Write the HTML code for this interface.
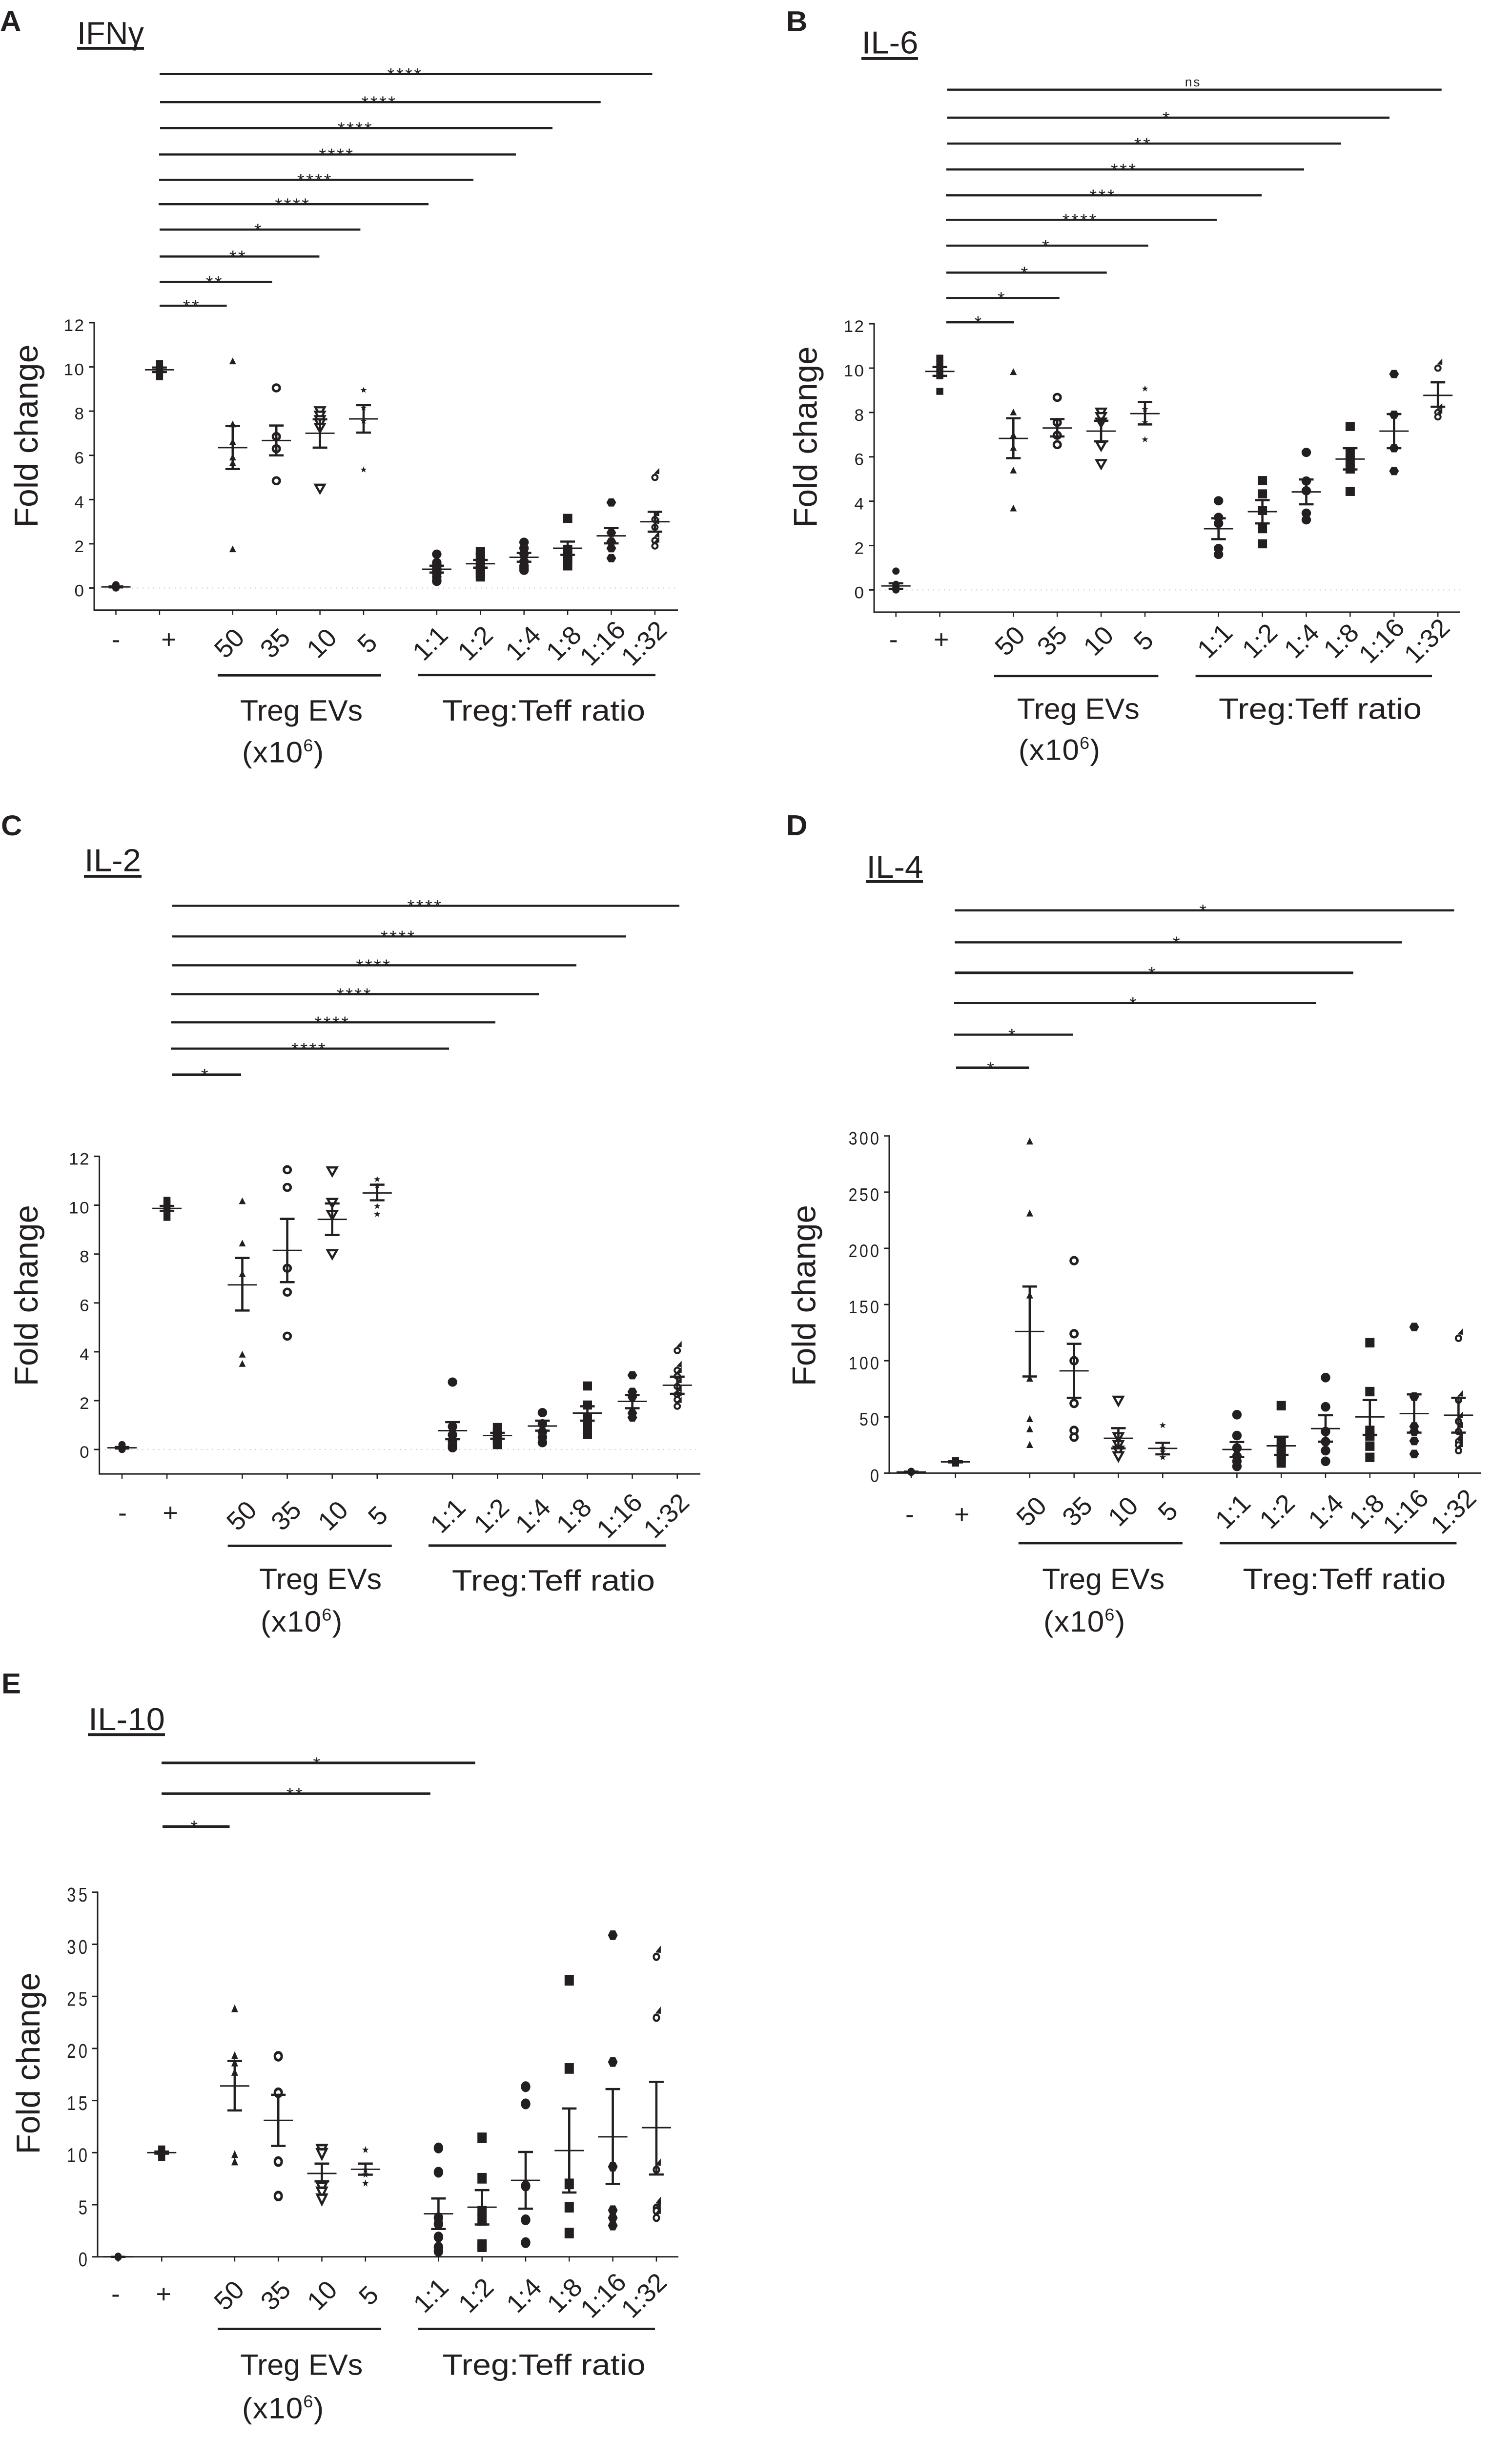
<!DOCTYPE html>
<html lang="en">
<head>
<meta charset="utf-8">
<title>Cytokine fold change panels</title>
<style>
html,body{margin:0;padding:0;background:#fff;width:100vw;height:100vh;overflow:hidden}
svg{display:block;position:absolute;left:0;top:0;width:100vw;height:100vh}
text{font-family:"Liberation Sans",sans-serif;fill:#231f20}
.sb{stroke:#231f20;stroke-width:4.5}
.st{font-size:38px;letter-spacing:3.5px;text-anchor:middle}
.ttl{font-size:66px}
.ltr{font-size:60px;font-weight:bold}
.gl{stroke:#231f20;stroke-width:5}
.ul{stroke:#231f20;stroke-width:6}
.gt{font-size:62px}
.yt{font-size:68px;text-anchor:middle}
</style>
</head>
<body>
<svg id="fig" xmlns="http://www.w3.org/2000/svg" viewBox="0 0 3098 5106" preserveAspectRatio="none">
<rect x="0" y="0" width="3098" height="5106" fill="#fff"/>

<g>
<text class="ltr" x="0" y="65">A</text>
<text class="ttl" x="158" y="92" textLength="137" lengthAdjust="spacingAndGlyphs">IFNγ</text>
<line class="ul" x1="158" x2="295" y1="101" y2="101"/>
<line class="sb" x1="327" x2="1336.5" y1="155" y2="155"/><text class="st" x="830" y="169">****</text>
<line class="sb" x1="328" x2="1230.7" y1="213.6" y2="213.6"/><text class="st" x="777" y="227.6">****</text>
<line class="sb" x1="328" x2="1132" y1="267.8" y2="267.8"/><text class="st" x="728.5" y="281.8">****</text>
<line class="sb" x1="326" x2="1057" y1="323.1" y2="323.1"/><text class="st" x="690" y="337.1">****</text>
<line class="sb" x1="326" x2="970" y1="376.2" y2="376.2"/><text class="st" x="645.5" y="390.2">****</text>
<line class="sb" x1="325" x2="878" y1="427.1" y2="427.1"/><text class="st" x="600" y="441.1">****</text>
<line class="sb" x1="327" x2="738.4" y1="480.3" y2="480.3"/><text class="st" x="530" y="494.3">*</text>
<line class="sb" x1="327" x2="654.4" y1="536.6" y2="536.6"/><text class="st" x="488" y="550.6">**</text>
<line class="sb" x1="327" x2="557.5" y1="589.8" y2="589.8"/><text class="st" x="440" y="603.8">**</text>
<line class="sb" x1="327" x2="464.6" y1="639.6" y2="639.6"/><text class="st" x="393" y="653.6">**</text>
<line class="gl" x1="446" x2="781" y1="1412.6" y2="1412.6"/>
<line class="gl" x1="857" x2="1343" y1="1412" y2="1412"/>
<text class="gt" x="492" y="1507.5" textLength="251" lengthAdjust="spacingAndGlyphs">Treg EVs</text>
<text class="gt" x="496" y="1594.8" letter-spacing="1.2">(x10<tspan font-size="36" dy="-23">6</tspan><tspan dy="23">)</tspan></text>
<text class="gt" x="906" y="1507.5" textLength="416" lengthAdjust="spacingAndGlyphs">Treg:Teff ratio</text>
<text class="yt" transform="translate(77 912) rotate(-90)" textLength="383" lengthAdjust="spacingAndGlyphs">Fold change</text>
</g>

<g>
<text class="ltr" x="1611" y="65">B</text>
<text class="ttl" x="1765.5" y="111.7" textLength="116" lengthAdjust="spacingAndGlyphs">IL-6</text>
<line class="ul" x1="1765" x2="1881" y1="122.5" y2="122.5"/>
<line class="sb" x1="1940.5" x2="2953.7" y1="187.6" y2="187.6"/><text x="2444.6" y="181" font-size="26" letter-spacing="3" text-anchor="middle">ns</text>
<line class="sb" x1="1940.5" x2="2847" y1="246.1" y2="246.1"/><text class="st" x="2391" y="260.1">*</text>
<line class="sb" x1="1940.5" x2="2748" y1="300.3" y2="300.3"/><text class="st" x="2342" y="314.3">**</text>
<line class="sb" x1="1939" x2="2672" y1="354.5" y2="354.5"/><text class="st" x="2303.3" y="368.5">***</text>
<line class="sb" x1="1938" x2="2585" y1="408.7" y2="408.7"/><text class="st" x="2259.8" y="422.7">***</text>
<line class="sb" x1="1938" x2="2493" y1="459.7" y2="459.7"/><text class="st" x="2213.3" y="473.7">****</text>
<line class="sb" x1="1939" x2="2352.7" y1="513.9" y2="513.9"/><text class="st" x="2144" y="527.9">*</text>
<line class="sb" x1="1939" x2="2267.7" y1="570.3" y2="570.3"/><text class="st" x="2100.6" y="584.3">*</text>
<line class="sb" x1="1939" x2="2170.8" y1="623.4" y2="623.4"/><text class="st" x="2053" y="637.4">*</text>
<line class="sb" x1="1939" x2="2077.5" y1="673.7" y2="673.7" style="stroke-width:5.5"/><text class="st" x="2005.7" y="687.7">*</text>
<line class="gl" x1="2037" x2="2373.4" y1="1414" y2="1414"/>
<line class="gl" x1="2449.6" x2="2934" y1="1414" y2="1414"/>
<text class="gt" x="2083.8" y="1503.7" textLength="251" lengthAdjust="spacingAndGlyphs">Treg EVs</text>
<text class="gt" x="2086.8" y="1589.3" letter-spacing="1.2">(x10<tspan font-size="36" dy="-23">6</tspan><tspan dy="23">)</tspan></text>
<text class="gt" x="2497" y="1503.7" textLength="416" lengthAdjust="spacingAndGlyphs">Treg:Teff ratio</text>
<text class="yt" transform="translate(1673.6 914) rotate(-90)" textLength="379" lengthAdjust="spacingAndGlyphs">Fold change</text>
</g>

<g>
<text class="ltr" x="2" y="1747.5">C</text>
<text class="ttl" x="173" y="1822.4" textLength="116" lengthAdjust="spacingAndGlyphs">IL-2</text>
<line class="ul" x1="172" x2="290" y1="1833" y2="1833"/>
<line class="sb" x1="353" x2="1392" y1="1894.6" y2="1894.6"/><text class="st" x="871" y="1908.6">****</text>
<line class="sb" x1="353" x2="1283" y1="1958.9" y2="1958.9"/><text class="st" x="816.5" y="1972.9">****</text>
<line class="sb" x1="353" x2="1181" y1="2019.2" y2="2019.2"/><text class="st" x="766" y="2033.2">****</text>
<line class="sb" x1="351" x2="1104" y1="2079.5" y2="2079.5"/><text class="st" x="726.5" y="2093.5">****</text>
<line class="sb" x1="351" x2="1015" y1="2138.6" y2="2138.6"/><text class="st" x="681" y="2152.6">****</text>
<line class="sb" x1="350" x2="920" y1="2193.3" y2="2193.3"/><text class="st" x="633.6" y="2207.3">****</text>
<line class="sb" x1="352" x2="494" y1="2248" y2="2248" style="stroke-width:5.5"/><text class="st" x="421" y="2262">*</text>
<line class="gl" x1="466.6" x2="802.7" y1="3233.5" y2="3233.5"/>
<line class="gl" x1="878" x2="1364" y1="3233" y2="3233"/>
<text class="gt" x="531" y="3323.9" textLength="251" lengthAdjust="spacingAndGlyphs">Treg EVs</text>
<text class="gt" x="534" y="3413" letter-spacing="1.2">(x10<tspan font-size="36" dy="-23">6</tspan><tspan dy="23">)</tspan></text>
<text class="gt" x="926" y="3327" textLength="416" lengthAdjust="spacingAndGlyphs">Treg:Teff ratio</text>
<text class="yt" transform="translate(77 2710) rotate(-90)" textLength="379" lengthAdjust="spacingAndGlyphs">Fold change</text>
</g>

<g>
<text class="ltr" x="1611" y="1747">D</text>
<text class="ttl" x="1775.4" y="1836" textLength="116" lengthAdjust="spacingAndGlyphs">IL-4</text>
<line class="ul" x1="1774" x2="1891" y1="1844" y2="1844"/>
<line class="sb" x1="1956.3" x2="2979.4" y1="1904.2" y2="1904.2"/><text class="st" x="2466.4" y="1918.2">*</text>
<line class="sb" x1="1956.3" x2="2872.6" y1="1971.2" y2="1971.2"/><text class="st" x="2412" y="1985.2">*</text>
<line class="sb" x1="1956.3" x2="2772.8" y1="2034.8" y2="2034.8" style="stroke-width:5.5"/><text class="st" x="2361.6" y="2048.8">*</text>
<line class="sb" x1="1955" x2="2696.7" y1="2098.4" y2="2098.4"/><text class="st" x="2323" y="2112.4">*</text>
<line class="sb" x1="1955" x2="2198.5" y1="2164.3" y2="2164.3"/><text class="st" x="2075" y="2178.3">*</text>
<line class="sb" x1="1959" x2="2108.5" y1="2233.5" y2="2233.5" style="stroke-width:5.5"/><text class="st" x="2031.4" y="2247.5">*</text>
<line class="gl" x1="2086.8" x2="2422.9" y1="3228" y2="3228"/>
<line class="gl" x1="2499" x2="2984.4" y1="3228" y2="3228"/>
<text class="gt" x="2135.2" y="3323.9" textLength="251" lengthAdjust="spacingAndGlyphs">Treg EVs</text>
<text class="gt" x="2138" y="3413" letter-spacing="1.2">(x10<tspan font-size="36" dy="-23">6</tspan><tspan dy="23">)</tspan></text>
<text class="gt" x="2546.4" y="3323.9" textLength="416" lengthAdjust="spacingAndGlyphs">Treg:Teff ratio</text>
<text class="yt" transform="translate(1670.6 2710) rotate(-90)" textLength="379" lengthAdjust="spacingAndGlyphs">Fold change</text>
</g>

<g>
<text class="ltr" x="3" y="3542">E</text>
<text class="ttl" x="181" y="3619" textLength="157" lengthAdjust="spacingAndGlyphs">IL-10</text>
<line class="ul" x1="180" x2="338" y1="3628.5" y2="3628.5"/>
<line class="sb" x1="331" x2="973.7" y1="3687.6" y2="3687.6" style="stroke-width:5.5"/><text class="st" x="650.5" y="3701.6">*</text>
<line class="sb" x1="331" x2="881.8" y1="3752" y2="3752" style="stroke-width:5.5"/><text class="st" x="605" y="3766">**</text>
<line class="sb" x1="333" x2="470.5" y1="3820.7" y2="3820.7" style="stroke-width:5.5"/><text class="st" x="399.4" y="3834.7">*</text>
<line class="gl" x1="446" x2="781" y1="4871.5" y2="4871.5"/>
<line class="gl" x1="857" x2="1342" y1="4871.5" y2="4871.5"/>
<text class="gt" x="492.3" y="4967.6" textLength="251" lengthAdjust="spacingAndGlyphs">Treg EVs</text>
<text class="gt" x="496" y="5058.4" letter-spacing="1.2">(x10<tspan font-size="36" dy="-23">6</tspan><tspan dy="23">)</tspan></text>
<text class="gt" x="906.5" y="4967.6" textLength="416" lengthAdjust="spacingAndGlyphs">Treg:Teff ratio</text>
<text class="yt" transform="translate(81 4316) rotate(-90)" textLength="380" lengthAdjust="spacingAndGlyphs">Fold change</text>
</g>
</svg>

<script>
const categories = ['-', '+', '50', '35', '10', '5', '1:1', '1:2', '1:4', '1:8', '1:16', '1:32'];
const markerKinds = ['dot', 'smallSquare', 'triangle', 'ring', 'invTriangle', 'star', 'circle', 'square', 'circle', 'square', 'hexagon', 'ringTriangle'];

const ifngTicks = [0, 2, 4, 6, 8, 10, 12];
const ifngPoints = [
  [0.15, 0.0],
  [10.15, 10.0, 9.9, 9.8, 9.55],
  [10.25, 7.4, 6.6, 5.9, 5.65, 1.75],
  [9.05, 6.85, 6.3, 4.85],
  [8.0, 7.8, 7.6, 7.45, 7.25, 4.5],
  [8.95, 8.15, 7.55, 5.35],
  [1.53, 1.15, 1.05, 0.9, 0.8, 0.65, 0.5, 0.35, 0.3],
  [1.65, 1.45, 1.1, 0.95, 0.8, 0.65, 0.5],
  [2.07, 1.8, 1.55, 1.2, 1.0, 0.9, 0.8],
  [3.15, 1.75, 1.55, 1.4, 1.2, 1.0],
  [3.87, 2.5, 2.1, 1.8, 1.35],
  [5.0, 3.1, 2.75, 2.15, 1.9]
];
const ifngMeans = [0.05, 9.87, 6.35, 6.67, 7.0, 7.65, 0.85, 1.1, 1.39, 1.8, 2.36, 3.0];
const ifngUpper = [0.07, 9.97, 7.33, 7.35, 7.63, 8.27, 1.01, 1.27, 1.59, 2.1, 2.71, 3.45];
const ifngLower = [0.03, 9.77, 5.38, 6.0, 6.35, 7.03, 0.7, 0.92, 1.19, 1.5, 2.02, 2.55];

const il6Ticks = [0, 2, 4, 6, 8, 10, 12];
const il6Points = [
  [0.85, 0.25, 0.1, 0.0],
  [10.45, 10.2, 10.0, 9.8, 9.65, 8.95],
  [9.82, 8.0, 6.97, 6.4, 5.38, 3.67],
  [8.68, 7.55, 6.97, 6.55],
  [8.0, 7.8, 7.55, 6.5, 5.68],
  [9.07, 8.15, 7.55, 6.78],
  [4.02, 3.27, 3.0, 1.87, 1.6],
  [4.93, 4.33, 3.58, 2.76, 2.08],
  [6.2, 4.91, 4.47, 3.46, 3.16],
  [7.37, 6.15, 5.8, 5.45, 4.44],
  [9.73, 7.9, 6.39, 5.36],
  [10.0, 8.0, 7.8]
];
const il6Means = [0.18, 9.85, 6.83, 7.3, 7.16, 7.95, 2.76, 3.53, 4.42, 5.9, 7.16, 8.77];
const il6Upper = [0.3, 10.05, 7.74, 7.7, 7.63, 8.47, 3.23, 4.05, 4.98, 6.39, 7.93, 9.36];
const il6Lower = [0.05, 9.65, 5.94, 6.92, 6.7, 7.46, 2.29, 3.0, 3.86, 5.43, 6.39, 8.26];

const il2Ticks = [0, 2, 4, 6, 8, 10, 12];
const il2Points = [
  [0.2, 0.05, 0.0],
  [10.2, 10.05, 9.9, 9.75, 9.5],
  [10.16, 8.43, 7.18, 3.88, 3.5],
  [11.45, 10.73, 7.42, 6.44, 4.64],
  [11.39, 10.1, 9.6, 8.0],
  [11.06, 10.8, 9.96, 9.63],
  [2.76, 0.94, 0.6, 0.33, 0.17, 0.07],
  [0.9, 0.66, 0.5, 0.33, 0.2],
  [1.51, 1.05, 0.72, 0.5, 0.28],
  [2.6, 1.82, 1.27, 0.94, 0.61],
  [3.04, 2.36, 2.15, 1.49, 1.31],
  [4.05, 3.24, 3.0, 2.58, 2.25, 2.04, 1.77]
];
const il2Means = [0.07, 9.87, 6.74, 8.15, 9.42, 10.5, 0.77, 0.57, 0.96, 1.49, 1.97, 2.63];
const il2Upper = [0.1, 9.97, 7.84, 9.44, 10.07, 10.84, 1.12, 0.68, 1.18, 1.77, 2.23, 2.98];
const il2Lower = [0.04, 9.77, 5.69, 6.85, 8.78, 10.2, 0.42, 0.44, 0.77, 1.18, 1.69, 2.28];

const il4Ticks = [0, 50, 100, 150, 200, 250, 300];
const il4Points = [
  [1.5, 0.8],
  [11, 10, 9],
  [295, 231, 158, 84, 48, 39, 25],
  [189, 124, 100, 62, 38, 32],
  [64.4, 32, 25, 20, 15],
  [42.5, 22.4, 19, 14],
  [52, 33.4, 22.4, 15, 10.5, 6],
  [60, 27, 22.4, 17.6, 13, 9],
  [85, 59, 37, 28, 20, 10.5],
  [116, 72.5, 38, 33, 24, 14],
  [130, 68, 41.5, 37, 28.6, 17],
  [120, 65, 46, 37, 28, 25, 20]
];
const il4Means = [1, 10, 126, 91, 31, 22, 21, 24.3, 39.6, 50, 53, 51.5];
const il4Upper = [1.3, 10.5, 166, 115, 40, 27, 27.7, 32.4, 51.5, 65, 70, 67];
const il4Lower = [0.7, 9.5, 86, 67, 22, 16.7, 14.3, 16.2, 28, 34, 36, 36];

const il10Ticks = [0, 5, 10, 15, 20, 25, 30, 35];
const il10Points = [
  [0.0],
  [10.3, 10.1, 10.0, 9.9, 9.6],
  [23.8, 19.3, 18.6, 17.7, 9.8, 9.1],
  [19.25, 15.75, 9.14, 5.83],
  [10.3, 9.9, 6.66, 6.2, 5.54],
  [10.26, 8.36, 7.9, 7.05],
  [10.45, 8.12, 3.74, 3.16, 1.9, 0.92, 0.53],
  [11.42, 7.54, 4.38, 3.5, 1.17, 0.97],
  [16.33, 14.68, 6.8, 3.55, 1.36],
  [26.54, 18.08, 7.0, 4.76, 2.28],
  [30.87, 18.7, 8.65, 4.47, 3.74, 3.0],
  [28.8, 22.95, 8.36, 4.7, 4.4, 3.74]
];
const il10Means = [0, 10, 16.4, 13.1, 8.0, 8.4, 4.13, 4.76, 7.34, 10.2, 11.52, 12.4];
const il10Upper = [0, 10.1, 18.8, 15.55, 8.95, 8.95, 5.6, 6.4, 10.06, 14.24, 16.1, 16.8];
const il10Lower = [0, 9.9, 14.05, 10.65, 7.24, 7.88, 2.67, 3.1, 4.62, 6.17, 7.0, 7.9];

const panels = [
  { key: 'ifng', ticks: ifngTicks, points: ifngPoints, means: ifngMeans, upper: ifngUpper, lower: ifngLower,
    x0: 237.5, step: 89.4, gap: 60.5, y0: 1230, k: 46.25, yMin: -1, axisX: 193, right: 1389,
    labelY: 1346, ctrlDy: -8, tickFont: 35, tickSx: 1, tickLs: 2.5, markerSy: 1,
    labelDx: [0, 19, -6.5, -2, 4, 8, -13, -10, -1.5, -7.5, -17.5, -22] },
  { key: 'il6', ticks: il6Ticks, points: il6Points, means: il6Means, upper: il6Upper, lower: il6Lower,
    x0: 1835.7, step: 89.9, gap: 60.8, y0: 1234, k: 46.4, yMin: -1, axisX: 1791, right: 2992,
    labelY: 1341, ctrlDy: -3, tickFont: 35, tickSx: 1, tickLs: 2.5, markerSy: 1,
    labelDx: [-5, 3, -6.5, -10, -5, -2.5, -7, -5, -9, -18, -25, -22] },
  { key: 'il2', ticks: il2Ticks, points: il2Points, means: il2Means, upper: il2Upper, lower: il2Lower,
    x0: 250, step: 92.1, gap: 62.3, y0: 3032, k: 51.1, yMin: -1, axisX: 203.6, right: 1435,
    labelY: 3171, ctrlDy: -6, tickFont: 35, tickSx: 1, tickLs: 2.5, markerSy: 1,
    labelDx: [1, 7, -1, -2, 2, 2, -9, -12, -19, -27, -26, -22] },
  { key: 'il4', ticks: il4Ticks, points: il4Points, means: il4Means, upper: il4Upper, lower: il4Lower,
    x0: 1867, step: 90.8, gap: 61.3, y0: 3081.4, k: 2.351, yMin: 0, axisX: 1822, right: 3035,
    labelY: 3162, ctrlDy: 6, tickFont: 38, tickSx: 0.85, tickLs: 5, markerSy: 1.04,
    labelDx: [-3, 13, 4, 7, 10, 11, -8, -8, 1, -6, -17, -10] },
  { key: 'il10', ticks: il10Ticks, points: il10Points, means: il10Means, upper: il10Upper, lower: il10Lower,
    x0: 242, step: 89.3, gap: 60.3, y0: 4720.7, k: 21.79, yMin: 0, axisX: 200, right: 1390,
    labelY: 4802, ctrlDy: -3, tickFont: 42, tickSx: 0.78, tickLs: 7, markerSy: 1.17,
    labelDx: [-5, 4, -11, -5, 1, 7, -15, -12, -3, -9, -19, -25] }
];

const fig = document.getElementById('fig');
const svgNs = fig.namespaceURI;
const ink = '#231f20';

function make(tag, parent, attrs) {
  const el = document.createElementNS(svgNs, tag);
  for (const k in attrs) el.setAttribute(k, attrs[k]);
  parent.appendChild(el);
  return el;
}
function xPos(i, p) {
  return p.x0 + p.step * i + (i >= 2 ? p.gap : 0) + (i >= 6 ? p.gap : 0);
}
function yPos(v, p) {
  return p.y0 - v * p.k;
}
function poly(parent, verts, attrs) {
  const pts = verts.map(function (v) { return v[0] + ',' + v[1]; }).join(' ');
  return make('polygon', parent, Object.assign({ points: pts }, attrs));
}
function starVerts(R, r) {
  const out = [];
  for (let a = 0; a < 10; a++) {
    const rad = a % 2 ? r : R;
    const t = -Math.PI / 2 + a * Math.PI / 5;
    out.push([rad * Math.cos(t), rad * Math.sin(t)]);
  }
  return out;
}
function hexVerts(r) {
  const out = [];
  for (let a = 0; a < 6; a++) {
    const t = a * Math.PI / 3;
    out.push([r * Math.cos(t), r * Math.sin(t)]);
  }
  return out;
}
function drawMarker(kind, parent, x, y, sy) {
  const g = make('g', parent, { transform: 'translate(' + x + ' ' + y + ') scale(1 ' + sy + ')' });
  
  
  if (kind === 'dot') make('circle', g, { cx: 0, cy: 0, r: 7.5, fill: ink });
  if (kind === 'circle') make('circle', g, { cx: 0, cy: 0, r: 9.7, fill: ink });
  if (kind === 'square') make('rect', g, { x: -9.5, y: -9.5, width: 19, height: 19, fill: ink });
  if (kind === 'smallSquare') make('rect', g, { x: -7.2, y: -7.2, width: 14.4, height: 14.4, fill: ink });
  if (kind === 'triangle') poly(g, [[0, -8], [7, 6], [-7, 6]], { fill: ink });
  if (kind === 'ring') make('circle', g, { cx: 0, cy: 0, r: 7, fill: '#fff', stroke: ink, 'stroke-width': 5 });
  if (kind === 'invTriangle') poly(g, [[-9.5, -8], [9.5, -8], [0, 9]], { fill: '#fff', stroke: ink, 'stroke-width': 4.5 });
  if (kind === 'star') poly(g, starVerts(7, 2.8), { fill: ink });
  if (kind === 'hexagon') poly(g, hexVerts(10), { fill: ink });
  if (kind === 'ringTriangle') {
    poly(g, [[9, -20], [9, -7], [-2, -8]], { fill: ink });
    make('circle', g, { cx: 0, cy: 0, r: 5.5, fill: '#fff', stroke: ink, 'stroke-width': 4 });
  }
}

panels.forEach(function (p) {
  const chart = make('g', fig, {});
  
  

  const bottom = yPos(p.yMin, p);
  const top = yPos(p.ticks[p.ticks.length - 1], p);

  if (p.yMin < 0) {
    const zero = make('line', chart, { x1: p.axisX, x2: p.right, y1: p.y0, y2: p.y0, stroke: '#c4c4c4', 'stroke-width': 2, 'stroke-dasharray': '2 9' });
    
    
  }

  const yAxis = make('line', chart, { x1: p.axisX, x2: p.axisX, y1: top - 1.5, y2: bottom + 1.5, stroke: ink, 'stroke-width': 3 });
  
  

  const xAxis = make('line', chart, { x1: p.axisX, x2: p.right, y1: bottom, y2: bottom, stroke: ink, 'stroke-width': 3 });
  
  

  p.ticks.forEach(function (t) {
    const yy = yPos(t, p);
    const mark = make('line', chart, { x1: p.axisX - 11, x2: p.axisX, y1: yy, y2: yy, stroke: ink, 'stroke-width': 3 });
    
    
    const tx = p.axisX - 21 + p.tickLs * p.tickSx;
    const ty = yy + 5 + p.tickFont * 0.35;
    const label = make('text', chart, { transform: 'translate(' + tx + ' ' + ty + ') scale(' + p.tickSx + ' 1)', 'text-anchor': 'end', 'font-size': p.tickFont, 'letter-spacing': p.tickLs });
    label.textContent = t;
    
    
  });

  categories.forEach(function (cat, i) {
    const x = xPos(i, p);
    const mark = make('line', chart, { x1: x, x2: x, y1: bottom, y2: bottom + 10, stroke: ink, 'stroke-width': 2.5 });
    
    

    const lx = x + p.labelDx[i];
    const ly = i < 2 ? p.labelY + p.ctrlDy : p.labelY;
    const attrs = { x: lx, y: ly, 'text-anchor': 'middle', 'dominant-baseline': 'central', 'font-size': 54 };
    if (i >= 2) attrs.transform = 'rotate(-45 ' + lx + ' ' + ly + ')';
    const label = make('text', chart, attrs);
    label.textContent = cat;
    
    

    const group = make('g', chart, {});
    
    

    p.points[i].forEach(function (v) {
      drawMarker(markerKinds[i], group, x, yPos(v, p), p.markerSy);
    });

    const stem = make('line', group, { x1: x, x2: x, y1: yPos(p.upper[i], p), y2: yPos(p.lower[i], p), stroke: ink, 'stroke-width': 4.6 });
    
    

    const capHi = make('line', group, { x1: x - 15, x2: x + 15, y1: yPos(p.upper[i], p), y2: yPos(p.upper[i], p), stroke: ink, 'stroke-width': 4.6 });
    
    

    const capLo = make('line', group, { x1: x - 15, x2: x + 15, y1: yPos(p.lower[i], p), y2: yPos(p.lower[i], p), stroke: ink, 'stroke-width': 4.6 });
    
    

    const meanLine = make('line', group, { x1: x - 30, x2: x + 30, y1: yPos(p.means[i], p), y2: yPos(p.means[i], p), stroke: ink, 'stroke-width': 3 });
    
    
  });
});
</script>
</body>
</html>
